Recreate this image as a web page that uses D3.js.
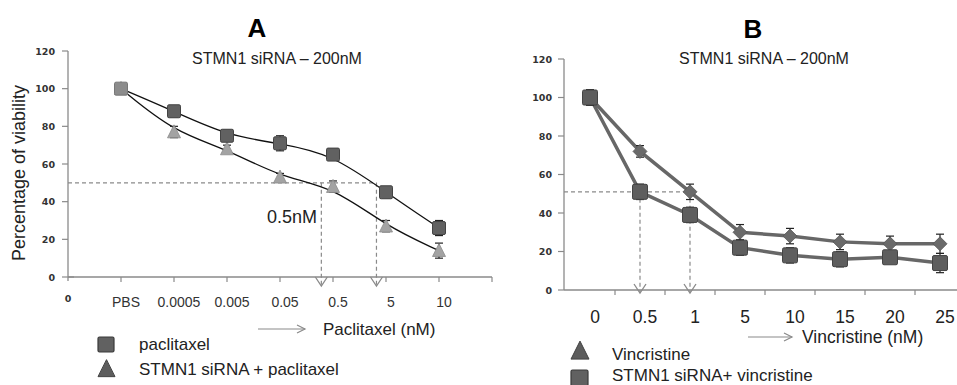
<!DOCTYPE html>
<html>
<head>
<meta charset="utf-8">
<script src="https://cdn.jsdelivr.net/npm/d3@7"></script>
<style>
  body { margin: 0; background: #fff; }
  svg text { font-family: "Liberation Sans", Arial, sans-serif; }
  .tick-y { font-family: "DejaVu Sans", Verdana, sans-serif !important; font-weight: bold; font-size: 9.5px; fill: #333; }
</style>
</head>
<body>
<svg id="chart" width="957" height="385"></svg>
<script>
// panel A data
const catsA        = ['0', 'PBS', '0.0005', '0.005', '0.05', '0.5', '5', '10'];
const paclitaxel   = [100, 88, 75, 71, 65, 45, 26];
const paclitaxelEr = [0, 3, 3, 4, 3, 3, 4];
const siPaclitaxel   = [100, 77, 68, 53, 48, 27, 14];
const siPaclitaxelEr = [0, 3, 2, 2, 3, 3, 4];
const ic50A = [4.78, 5.82]; // x positions (in category units) of the dashed drops

// panel B data
const catsB         = ['0', '0.5', '1', '5', '10', '15', '20', '25'];
const vincristine   = [100, 72, 51, 30, 28, 25, 24, 24];
const vincristineEr = [4, 3, 4, 4, 4, 4, 4, 5];
const siVincristine   = [100, 51, 39, 22, 18, 16, 17, 14];
const siVincristineEr = [4, 4, 4, 4, 4, 4, 2, 5];
const ic50B = ['0.5', '1'];

const yTicks = [0, 20, 40, 60, 80, 100, 120];

const svg = d3.select('#chart');
const axisCol = '#8a8a8a';
const dashCol = '#8a8a8a';

function trianglePath(cx, cy, s) {
  return `M${cx},${cy - s * 0.55}L${cx + s / 2},${cy + s * 0.45}L${cx - s / 2},${cy + s * 0.45}Z`;
}

function drawErr(g, x, v, e, yScale) {
  if (!e) return;
  const top = yScale(v + e), bot = yScale(v - e);
  g.append('line').attr('x1', x).attr('x2', x).attr('y1', top).attr('y2', bot)
    .attr('stroke', '#222').attr('stroke-width', 1.2);
  [top, bot].forEach(yy => {
    g.append('line').attr('x1', x - 4).attr('x2', x + 4).attr('y1', yy).attr('y2', yy)
      .attr('stroke', '#222').attr('stroke-width', 1.2);
  });
}

function chevron(g, x, tipY) {
  g.append('path')
    .attr('d', `M${x - 6},${tipY - 9}L${x},${tipY}L${x + 6},${tipY - 9}`)
    .attr('fill', 'none').attr('stroke', dashCol).attr('stroke-width', 1.3);
}

function arrowLabel(g, x1, x2, y) {
  g.append('line').attr('x1', x1).attr('x2', x2).attr('y1', y).attr('y2', y)
    .attr('stroke', axisCol).attr('stroke-width', 1.2);
  g.append('path').attr('d', `M${x2 - 8},${y - 4}L${x2},${y}L${x2 - 8},${y + 4}`)
    .attr('fill', 'none').attr('stroke', axisCol).attr('stroke-width', 1.2);
}

// ---------------- Panel A ----------------
const gA = svg.append('g');
const xA = d3.scaleLinear().domain([0, 8]).range([68, 492]);
const yA = d3.scaleLinear().domain([0, 120]).range([277, 51]);

// y axis
gA.append('line').attr('x1', 68).attr('x2', 68).attr('y1', yA(120)).attr('y2', yA(0) + 4)
  .attr('stroke', axisCol).attr('stroke-width', 1.3);
yTicks.forEach(t => {
  gA.append('line').attr('x1', 62).attr('x2', t === 0 ? 74 : 68).attr('y1', yA(t)).attr('y2', yA(t))
    .attr('stroke', axisCol).attr('stroke-width', 1.2);
  gA.append('text').attr('class', 'tick-y').attr('x', 55).attr('y', yA(t) + 3.5)
    .attr('text-anchor', 'end').text(t);
});
// x axis
gA.append('line').attr('x1', 68).attr('x2', xA(8)).attr('y1', yA(0)).attr('y2', yA(0))
  .attr('stroke', axisCol).attr('stroke-width', 1.3);
d3.range(1, 9).forEach(i => {
  gA.append('line').attr('x1', xA(i)).attr('x2', xA(i)).attr('y1', yA(0)).attr('y2', yA(0) + 5)
    .attr('stroke', axisCol).attr('stroke-width', 1.2);
});
catsA.forEach((c, i) => {
  if (i === 0) {
    gA.append('text').attr('class', 'tick-y').attr('x', xA(0)).attr('y', 302)
      .attr('text-anchor', 'middle').text(c);
  } else {
    gA.append('text').attr('x', xA(i) + 5).attr('y', 307).attr('text-anchor', 'middle')
      .attr('font-size', 14).attr('fill', '#333').text(c);
  }
});

// dashed IC50 guides
gA.append('line').attr('x1', 68).attr('x2', xA(ic50A[1])).attr('y1', yA(50)).attr('y2', yA(50))
  .attr('stroke', dashCol).attr('stroke-dasharray', '4,3').attr('stroke-width', 1.2);
ic50A.forEach(v => {
  gA.append('line').attr('x1', xA(v)).attr('x2', xA(v)).attr('y1', yA(50)).attr('y2', yA(0) + 8)
    .attr('stroke', dashCol).attr('stroke-dasharray', '4,3').attr('stroke-width', 1.2);
  chevron(gA, xA(v), yA(0) + 9);
});

// fitted curves
const lineA = d3.line().x((d, i) => xA(i + 1)).y(d => yA(d)).curve(d3.curveBasis);
gA.append('path').datum(paclitaxel).attr('d', lineA).attr('fill', 'none')
  .attr('stroke', '#111').attr('stroke-width', 1.3);
gA.append('path').datum(siPaclitaxel).attr('d', lineA).attr('fill', 'none')
  .attr('stroke', '#111').attr('stroke-width', 1.3);

// markers
siPaclitaxel.forEach((v, i) => {
  drawErr(gA, xA(i + 1), v, siPaclitaxelEr[i], yA);
  gA.append('path').attr('d', trianglePath(xA(i + 1), yA(v), 13))
    .attr('fill', '#a3a3a3').attr('stroke', '#8a8a8a').attr('stroke-width', 0.8);
});
paclitaxel.forEach((v, i) => {
  drawErr(gA, xA(i + 1), v, paclitaxelEr[i], yA);
  gA.append('rect').attr('x', xA(i + 1) - 6.5).attr('y', yA(v) - 6.5)
    .attr('width', 13).attr('height', 13).attr('rx', 1.5)
    .attr('fill', i === 0 ? '#8c8c8c' : '#616161').attr('stroke', i === 0 ? '#777' : '#444')
    .attr('stroke-width', 1);
});

// titles and labels
gA.append('text').attr('x', 257).attr('y', 37).attr('text-anchor', 'middle')
  .attr('font-size', 26).attr('font-weight', 'bold').attr('fill', '#000').text('A');
gA.append('text').attr('x', 277).attr('y', 64).attr('text-anchor', 'middle')
  .attr('font-size', 16).attr('fill', '#222').text('STMN1 siRNA – 200nM');
gA.append('text').attr('transform', 'translate(25,173) rotate(-90)').attr('text-anchor', 'middle')
  .attr('font-size', 18).attr('fill', '#222').text('Percentage of viability');
gA.append('text').attr('x', 267).attr('y', 223).attr('font-size', 18).attr('fill', '#222').text('0.5nM');
arrowLabel(gA, 258, 305, 329);
gA.append('text').attr('x', 323).attr('y', 335).attr('font-size', 17).attr('fill', '#222').text('Paclitaxel (nM)');

// legend
gA.append('rect').attr('x', 98).attr('y', 337).attr('width', 16).attr('height', 15).attr('rx', 1.5)
  .attr('fill', '#616161').attr('stroke', '#3a3a3a').attr('stroke-width', 1.2);
gA.append('text').attr('x', 139).attr('y', 350).attr('font-size', 17).attr('fill', '#222').text('paclitaxel');
gA.append('path').attr('d', trianglePath(106.5, 369, 17)).attr('fill', '#5d5d5d').attr('stroke', '#444');
gA.append('text').attr('x', 139).attr('y', 375).attr('font-size', 17).attr('fill', '#222')
  .text('STMN1 siRNA + paclitaxel');

// ---------------- Panel B ----------------
const gB = svg.append('g');
const xB = d3.scaleBand().domain(catsB).range([565, 965]);
const yB = d3.scaleLinear().domain([0, 120]).range([290, 59]);
const cx = c => xB(c) + xB.bandwidth() / 2;

gB.append('line').attr('x1', 564).attr('x2', 564).attr('y1', yB(120)).attr('y2', yB(0))
  .attr('stroke', axisCol).attr('stroke-width', 1.3);
yTicks.forEach(t => {
  gB.append('line').attr('x1', 558).attr('x2', 564).attr('y1', yB(t)).attr('y2', yB(t))
    .attr('stroke', axisCol).attr('stroke-width', 1.2);
  gB.append('text').attr('class', 'tick-y').attr('x', 552).attr('y', yB(t) + 3.5)
    .attr('text-anchor', 'end').text(t);
});
gB.append('line').attr('x1', 564).attr('x2', 957).attr('y1', yB(0)).attr('y2', yB(0))
  .attr('stroke', axisCol).attr('stroke-width', 1.3);
catsB.forEach((c, i) => {
  if (i > 0) {
    gB.append('line').attr('x1', xB(c)).attr('x2', xB(c)).attr('y1', yB(0)).attr('y2', yB(0) + 5)
      .attr('stroke', axisCol).attr('stroke-width', 1.2);
  }
  gB.append('text').attr('x', cx(c) + 5).attr('y', 323).attr('text-anchor', 'middle')
    .attr('font-size', 17.5).attr('fill', '#222').text(c);
});

// dashed guides
gB.append('line').attr('x1', 564).attr('x2', cx(ic50B[1])).attr('y1', yB(51)).attr('y2', yB(51))
  .attr('stroke', dashCol).attr('stroke-dasharray', '4,3').attr('stroke-width', 1.2);
ic50B.forEach(c => {
  gB.append('line').attr('x1', cx(c)).attr('x2', cx(c)).attr('y1', yB(51)).attr('y2', yB(0) + 2)
    .attr('stroke', dashCol).attr('stroke-dasharray', '4,3').attr('stroke-width', 1.2);
  chevron(gB, cx(c), yB(0) + 3);
});

const lineB = d3.line().x((d, i) => cx(catsB[i])).y(d => yB(d));
gB.append('path').datum(vincristine).attr('d', lineB).attr('fill', 'none')
  .attr('stroke', '#676767').attr('stroke-width', 3.5);
gB.append('path').datum(siVincristine).attr('d', lineB).attr('fill', 'none')
  .attr('stroke', '#676767').attr('stroke-width', 3.5);

vincristine.forEach((v, i) => {
  const x = cx(catsB[i]);
  drawErr(gB, x, v, vincristineEr[i], yB);
  gB.append('path').attr('d', `M${x},${yB(v) - 7}L${x + 7},${yB(v)}L${x},${yB(v) + 7}L${x - 7},${yB(v)}Z`)
    .attr('fill', '#6a6a6a').attr('stroke', '#555').attr('stroke-width', 0.8);
});
siVincristine.forEach((v, i) => {
  const x = cx(catsB[i]);
  drawErr(gB, x, v, siVincristineEr[i], yB);
  gB.append('rect').attr('x', x - 7.5).attr('y', yB(v) - 7.5).attr('width', 15).attr('height', 15).attr('rx', 1.5)
    .attr('fill', '#5e5e5e').attr('stroke', '#444').attr('stroke-width', 1);
});

gB.append('text').attr('x', 753).attr('y', 38).attr('text-anchor', 'middle')
  .attr('font-size', 26).attr('font-weight', 'bold').attr('fill', '#000').text('B');
gB.append('text').attr('x', 764).attr('y', 64).attr('text-anchor', 'middle')
  .attr('font-size', 16).attr('fill', '#222').text('STMN1 siRNA – 200nM');
arrowLabel(gB, 748, 792, 337);
gB.append('text').attr('x', 802).attr('y', 343).attr('font-size', 17.5).attr('fill', '#222').text('Vincristine (nM)');

gB.append('path').attr('d', trianglePath(580, 351, 18)).attr('fill', '#5d5d5d').attr('stroke', '#444');
gB.append('text').attr('x', 612).attr('y', 360).attr('font-size', 17).attr('fill', '#222').text('Vincristine');
gB.append('rect').attr('x', 571).attr('y', 370).attr('width', 17).attr('height', 16).attr('rx', 1.5)
  .attr('fill', '#616161').attr('stroke', '#3a3a3a').attr('stroke-width', 1.2);
gB.append('text').attr('x', 612).attr('y', 381).attr('font-size', 17).attr('fill', '#222').text('STMN1 siRNA+ vincristine');
</script>
</body>
</html>
